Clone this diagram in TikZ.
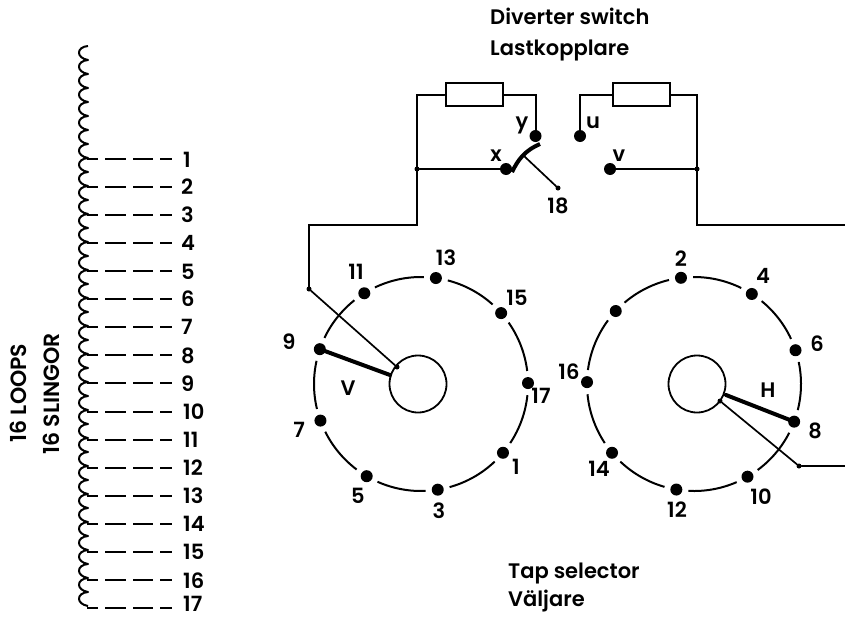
\documentclass[tikz,border=0pt]{standalone}
\usepackage{fontspec}
\usetikzlibrary{calc}
\setmainfont{Poppins}[UprightFont=* SemiBold,BoldFont=* SemiBold]
\begin{document}
\begin{tikzpicture}[x=1pt,y=-1pt,
  wire/.style={line width=2pt,line cap=round,line join=miter},
  thinwire/.style={line width=1.7pt,line cap=round},
  thick arm/.style={line width=4pt,line cap=round},
  ring/.style={line width=2pt},
  contact/.style={circle,fill=black,inner sep=0pt,minimum size=12pt},
  smalldot/.style={circle,fill=black,inner sep=0pt,minimum size=5pt},
  hub/.style={circle,draw,line width=1.8pt,inner sep=0pt,minimum size=57pt},
  resistor/.style={rectangle,draw,line width=2pt,inner sep=0pt,minimum width=57pt,minimum height=23pt},
  lab/.style={inner sep=0pt,font=\fontsize{21}{24}\selectfont},
  sidelab/.style={inner sep=0pt,rotate=90,font=\fontsize{22}{24}\selectfont},
  title/.style={inner sep=0pt,anchor=base west,font=\fontsize{21}{24}\selectfont}]
\useasboundingbox (0,0) rectangle (845,616);
% coil
\draw[line width=2pt,line join=round] (88,46)
  \foreach \i in {0,...,39}{ .. controls ({76},{46+14*\i+1}) and ({76},{46+14*\i+12}) .. ({88},{46+14*(\i+1)}) };
% taps
\foreach \n/\lx/\ly in {1/183/159.5,2/181/187,3/181/215,4/181/243,5/181/271.5,6/181/299,7/181/327,8/181/356,9/181/384,10/183/412,11/183/440,12/183/468,13/183/496,14/183/524,15/183/552,16/183/580.5,17/183/603.5}{
  \pgfmathsetmacro{\yy}{159+28.06*(\n-1)}
  \coordinate (s\n) at (87,\yy);
  \node[lab,anchor=west] (t\n) at (\lx,\ly) {\n};
  \draw[line width=2pt] (s\n) -- ++(11,0) ++(7,0) -- ++(21,0) ++(7,0) -- ++(20,0) ++(7,0) -- ++(12,0);
}
\node[sidelab] (l1) at (18,393) {16 LOOPS};
\node[sidelab] (l2) at (51,394) {16 SLINGOR};
% titles
\node[title] (d1) at (490,24) {Diverter switch};
\node[title] (d2) at (490,55) {Lastkopplare};
\node[title] (d3) at (508,578) {Tap selector};
\node[title] (d4) at (508,606) {Väljare};
% hubs and rings
\coordinate (VC) at (421,384);
\coordinate (HC) at (694,384);
\node[hub] (Vh) at (418,384) {};
\node[hub] (Hh) at (697,384) {};
\def\R{107pt}
\foreach \a/\b in {82/41.5,41.5/0.5,0.5/-40,-40/-81,-81/-120.5,-120.5/-160,-160/-199,-199/-238,122/82}{
  \draw[ring] ($(VC)+({\a-6.5}:\R)$) arc[start angle=\a-6.5,end angle=\b+6.5,radius=\R];}
\foreach \a/\b in {97/57.3,57.3/18.4,18.4/-20.6,-20.6/-60,-60/-99.5,-99.5/-140,-140/-181,179/137,137/97}{
  \draw[ring] ($(HC)+({\a-6.5}:\R)$) arc[start angle=\a-6.5,end angle=\b+6.5,radius=\R];}
\foreach \a/\n in {82/v13,41.5/v15,0.5/v17,-40/v1,-81/v3,-120.5/v5,-160/v7,161/v9,122/v11}{
  \node[contact] (\n) at ($(VC)+(\a:\R)$) {};}
\foreach \a/\n in {97/h2,57.3/h4,18.4/h6,-20.6/h8,-60/h10,-99.5/h12,-140/h14,179/h16,137/h0}{
  \node[contact] (\n) at ($(HC)+(\a:\R)$) {};}
% contact labels
\node[lab] (n13) at (446,258) {13};
\node[lab] (n15) at (517,298) {15};
\node[lab] (n17) at (541,396) {17};
\node[lab] (n1) at (516,467) {1};
\node[lab] (n3) at (439,511) {3};
\node[lab] (n5) at (358,496) {5};
\node[lab] (n7) at (299,430) {7};
\node[lab] (n9) at (289,342) {9};
\node[lab] (n11) at (356,272) {11};
\node[lab] (n2) at (681,259) {2};
\node[lab] (n4) at (763,276) {4};
\node[lab] (n6) at (817,344) {6};
\node[lab] (n8) at (815,431) {8};
\node[lab] (n10) at (761,497) {10};
\node[lab] (n12) at (677,510) {12};
\node[lab] (n14) at (599,469) {14};
\node[lab] (n16) at (569,372) {16};
\node[lab] (V) at (348,388) {V};
\node[lab] (H) at (768,390) {H};
% pointers
\coordinate (VA) at (390,375);
\coordinate (HA) at (726,395);
\draw[thick arm] (v9.center) -- (VA);
\draw[thick arm] (HA) -- (h8.center);
\node[smalldot] (vs) at (309,289) {};
\node[smalldot] (vi) at (397,367) {};
\node[smalldot] (hi) at (720,401) {};
\node[smalldot] (hs) at (799,466) {};
\coordinate (he) at (845,466);
\draw[thinwire] (vi) -- (vs);
\draw[thinwire] (hi) -- (hs);
\draw[wire] (hs) -- (he);
% diverter
\node[resistor] (r1) at (474,94.5) {};
\node[resistor] (r2) at (641.5,94.5) {};
\node[contact] (x) at (506,169) {};
\node[contact] (y) at (535.5,136) {};
\node[contact] (u) at (580,136) {};
\node[contact] (v) at (610,169) {};
\node[smalldot] (j1) at (417,169) {};
\node[smalldot] (j2) at (697,169) {};
\node[smalldot] (a18) at (558,188) {};
\coordinate (e1) at (417,225);
\coordinate (e2) at (845,225);
\draw[wire] (vs.center) |- (e1) -- (j1.center) |- (r1.west);
\draw[wire] (r1.east) -| (y.center);
\draw[wire] (j1) -- (x);
\draw[wire] (u.center) |- (r2.west);
\draw[wire] (r2.east) -| (j2.center);
\draw[wire] (j2) -- (v);
\draw[wire] (j2.center) |- (e2);
\coordinate (c1) at (512,172);
\coordinate (c2) at (540,144);
\coordinate (c3) at (524,156);
\draw[line width=4pt] (c1) .. controls (518,160) and (524,151) .. (c2);
\draw[thinwire] (c3) -- (a18);
\node[lab] (ly) at (522,125) {y};
\node[lab] (lx) at (496,156) {x};
\node[lab] (lu) at (593,123) {u};
\node[lab] (lv) at (619,156) {v};
\node[lab] (n18) at (558,206) {18};
\end{tikzpicture}
\end{document}
